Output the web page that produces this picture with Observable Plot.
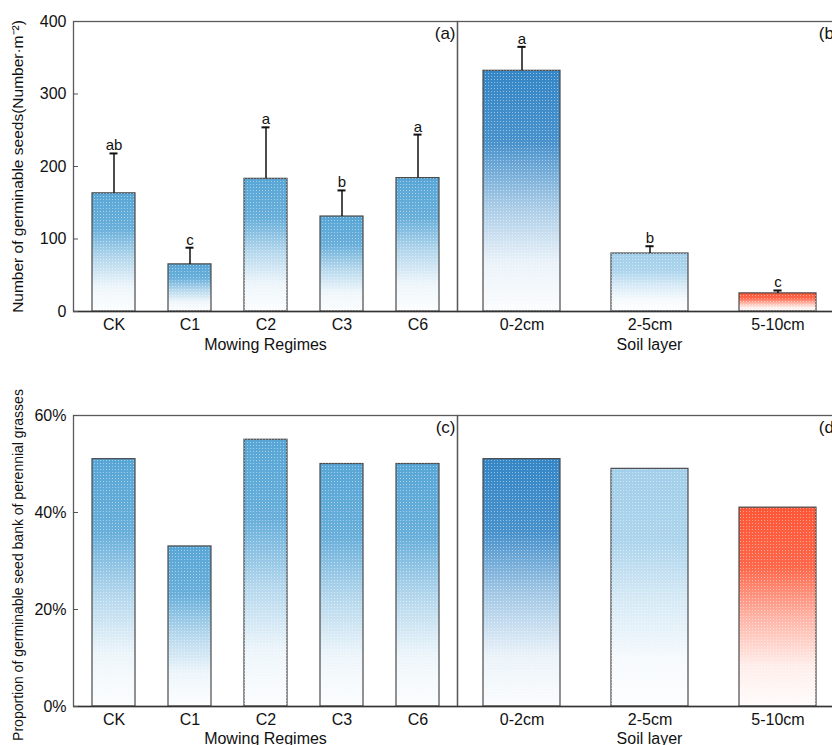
<!DOCTYPE html>
<html>
<head>
<meta charset="utf-8">
<script src="https://cdn.jsdelivr.net/npm/d3@7"></script>
<script src="https://cdn.jsdelivr.net/npm/@observablehq/plot@0.6"></script>
<style>
  html, body { margin: 0; padding: 0; background: #fff; overflow: hidden; }
  #fig { position: relative; width: 832px; height: 745px; overflow: hidden; }
  #fig > svg, #fig > figure { position: absolute; margin: 0; }
</style>
</head>
<body>
<div id="fig"></div>
<script>
// ---- data ----
const regimes = ["CK", "C1", "C2", "C3", "C6"];
const regimeSeeds = [163, 65, 183, 131, 184];
const regimeSeedErr = [55, 23, 71, 36, 60];
const regimeLetters = ["ab", "c", "a", "b", "a"];
const regimeProp = [51, 33, 55, 50, 50];

const layers = ["0-2cm", "2-5cm", "5-10cm"];
const layerSeeds = [332, 80, 25];
const layerSeedErr = [33, 10, 4];
const layerLetters = ["a", "b", "c"];
const layerProp = [51, 49, 41];

const seedTicks = [0, 100, 200, 300, 400];
const propTicks = [0, 20, 40, 60];

const regimeColors = ["#58a6d6", "#58a6d6", "#58a6d6", "#58a6d6", "#58a6d6"];
const layerColors = ["#3586c6", "#a3cfea", "#fe5636"];

const FONT = "'Liberation Sans', Arial, Helvetica, sans-serif";

// ---- shared gradient / dot-texture definitions ----
const fig = d3.select("#fig");
const defsSvg = fig.append("svg").attr("width", 0).attr("height", 0).style("position", "absolute");
const defs = defsSvg.append("defs");
const gid = c => "g" + c.replace("#", "");
for (const c of new Set([...regimeColors, ...layerColors])) {
  const g = defs.append("linearGradient").attr("id", gid(c))
    .attr("x1", 0).attr("y1", 0).attr("x2", 0).attr("y2", 1);
  [[0, 1], [0.3, 0.9], [0.55, 0.45], [0.8, 0.1], [1, 0.02]].forEach(([o, a]) =>
    g.append("stop").attr("offset", o).attr("stop-color", c).attr("stop-opacity", a));
}
const pat = defs.append("pattern").attr("id", "dots").attr("patternUnits", "userSpaceOnUse")
  .attr("width", 3).attr("height", 3);
pat.append("rect").attr("x", 1).attr("y", 1).attr("width", 1).attr("height", 1)
  .attr("fill", "#fff").attr("fill-opacity", 0.45);

function panel(o) {
  const rows = o.cats.map((c, i) => ({
    cat: c, v: o.values[i],
    e: o.errs ? o.errs[i] : null,
    lab: o.letters ? o.letters[i] : null,
    fill: `url(#${gid(o.colors[i])})`
  }));
  const plotW = o.width - o.marginLeft;
  const step = plotW / o.cats.length;
  const bw = step * (1 - o.padInner);
  const capInset = (bw - 8) / 2;
  const marks = [
    Plot.barY(rows, {x: "cat", y: "v", fill: "fill", stroke: "#4a4a4a", strokeWidth: 1.2}),
    Plot.barY(rows, {x: "cat", y: "v", fill: () => "url(#dots)"}),
    Plot.frame({stroke: "#5a5a5a", strokeWidth: 1.3}),
    Plot.ruleY([0], {stroke: "#333", strokeWidth: 1.6}),
    Plot.axisX({tickSize: 0, tickPadding: 7, fontSize: 16, label: null}),
    Plot.text([o.xLabel], {frameAnchor: "bottom", lineAnchor: "top", dy: o.xLabelDy, fontSize: 16}),
    Plot.text([o.panelLabel], {frameAnchor: "top-right", textAnchor: "end", lineAnchor: "top", dx: -2, dy: 5, fontSize: 17})
  ];
  if (o.errs) {
    marks.push(
      Plot.ruleX(rows, {x: "cat", y1: "v", y2: d => d.v + d.e, stroke: "#111", strokeWidth: 1.5}),
      Plot.tickY(rows, {x: "cat", y: d => d.v + d.e, insetLeft: capInset, insetRight: capInset, stroke: "#111", strokeWidth: 2}),
      Plot.text(rows, {x: "cat", y: d => d.v + d.e, text: "lab", lineAnchor: "bottom", dy: -3, fontSize: 15})
    );
  }
  if (o.showY) {
    marks.push(
      Plot.axisY({ticks: o.yTicks, tickSize: 0, tickPadding: 7, fontSize: 16, tickFormat: o.yFmt, label: null}),
      Plot.axisY({ticks: o.yTicks, tickSize: 5, dx: 5, tickFormat: () => "", label: null, stroke: "#555"}),
      Plot.text([o.yLabel], {frameAnchor: "left", rotate: -90, textAnchor: "middle", lineAnchor: "middle",
        dx: -55, dy: o.yLabelDy, fontSize: o.yLabelSize})
    );
  }
  const svg = Plot.plot({
    width: o.width, height: o.height,
    marginLeft: o.marginLeft, marginRight: 0, marginTop: o.marginTop, marginBottom: o.marginBottom,
    style: {fontFamily: FONT, color: "#111", background: "transparent", overflow: "visible"},
    x: {domain: o.cats, paddingInner: o.padInner, paddingOuter: o.padInner / 2, axis: null},
    y: {domain: o.yDomain, axis: null},
    color: {type: "identity"},
    marks
  });
  svg.style.left = o.left + "px";
  svg.style.top = o.top + "px";
  fig.node().appendChild(svg);
}

const topRow = {top: 0, height: 360, marginTop: 21, marginBottom: 49, xLabelDy: 27};
const botRow = {top: 360, height: 390, marginTop: 55, marginBottom: 44, xLabelDy: 26};

panel({...topRow, left: 0, width: 457, marginLeft: 73, padInner: 0.44,
  cats: regimes, values: regimeSeeds, errs: regimeSeedErr, letters: regimeLetters, colors: regimeColors,
  yDomain: [0, 400], yTicks: seedTicks, yFmt: d => String(d), showY: true, yLabelSize: 15.5, yLabelDy: 0,
  yLabel: "Number of germinable seeds(Number·m⁻²)", xLabel: "Mowing Regimes", panelLabel: "(a)"});
panel({...topRow, left: 457, width: 384, marginLeft: 0, padInner: 0.4,
  cats: layers, values: layerSeeds, errs: layerSeedErr, letters: layerLetters, colors: layerColors,
  yDomain: [0, 400], showY: false, xLabel: "Soil layer", panelLabel: "(b)"});
panel({...botRow, left: 0, width: 457, marginLeft: 73, padInner: 0.44,
  cats: regimes, values: regimeProp, colors: regimeColors,
  yDomain: [0, 60], yTicks: propTicks, yFmt: d => d + "%", showY: true, yLabelSize: 14, yLabelDy: 4,
  yLabel: "Proportion of germinable seed bank of perennial grasses", xLabel: "Mowing Regimes", panelLabel: "(c)"});
panel({...botRow, left: 457, width: 384, marginLeft: 0, padInner: 0.4,
  cats: layers, values: layerProp, colors: layerColors,
  yDomain: [0, 60], showY: false, xLabel: "Soil layer", panelLabel: "(d)"});
</script>
</body>
</html>
